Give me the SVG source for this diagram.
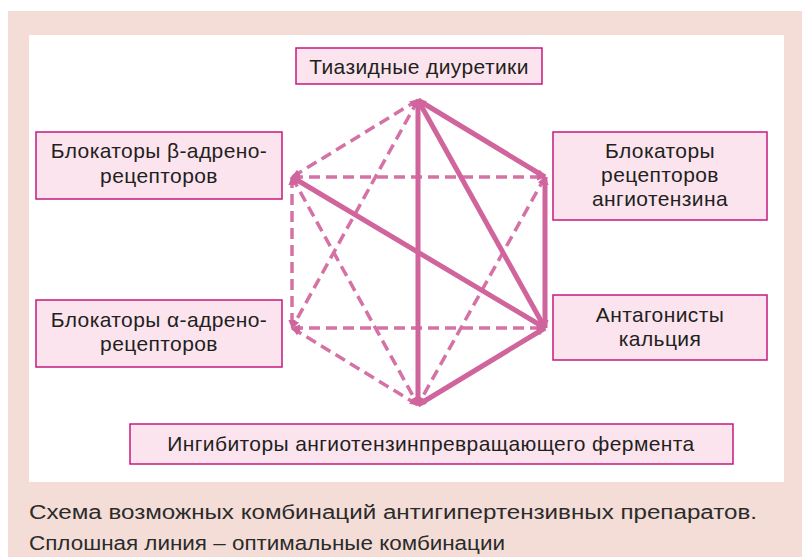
<svg xmlns="http://www.w3.org/2000/svg" width="802" height="557" viewBox="0 0 802 557">
<style>
.box{fill:#fce4ef;stroke:#c41a7e;stroke-width:1.5}
.lbl{font-family:"Liberation Sans","Arial",sans-serif;font-size:21px;letter-spacing:0.4px;fill:#231f20;text-anchor:middle}
.cap{font-family:"Liberation Sans","Arial",sans-serif;font-size:20px;fill:#2b2b2b}
.s{stroke:#d0649c;stroke-width:5;fill:none;marker-start:url(#ah);marker-end:url(#ah)}
.d{stroke:#d572a5;stroke-width:3.5;fill:none;stroke-dasharray:11 6;marker-start:url(#ah);marker-end:url(#ah)}
</style>
<defs>
<marker id="ah" viewBox="0 0 10 10" refX="9" refY="5" markerWidth="9" markerHeight="9" markerUnits="userSpaceOnUse" orient="auto-start-reverse">
<path d="M0,1 L10,5 L0,9 z" fill="#d0649c"/>
</marker>
</defs>
<rect x="8" y="11" width="794" height="546" fill="#f4ddd6"/>
<rect x="29" y="35" width="755" height="447" fill="#ffffff"/>
<g id="connectors">
<line class="d" x1="418" y1="100" x2="292" y2="177"/>
<line class="d" x1="418" y1="100" x2="292" y2="328"/>
<line class="d" x1="292" y1="177" x2="545" y2="177"/>
<line class="d" x1="292" y1="177" x2="292" y2="328"/>
<line class="d" x1="292" y1="177" x2="418" y2="405"/>
<line class="d" x1="545" y1="177" x2="418" y2="405"/>
<line class="d" x1="292" y1="328" x2="545" y2="328"/>
<line class="d" x1="292" y1="328" x2="418" y2="405"/>
<line class="s" x1="418" y1="100" x2="545" y2="177"/>
<line class="s" x1="418" y1="100" x2="545" y2="328"/>
<line class="s" x1="418" y1="100" x2="418" y2="405"/>
<line class="s" x1="545" y1="177" x2="545" y2="328"/>
<line class="s" x1="292" y1="177" x2="545" y2="328"/>
<line class="s" x1="545" y1="328" x2="418" y2="405"/>
</g>
<g id="node-thiazide">
<rect class="box" x="296" y="48" width="246" height="36"/>
<text class="lbl" x="419" y="74">Тиазидные диуретики</text>
</g>
<g id="node-beta">
<rect class="box" x="36" y="132" width="246" height="67"/>
<text class="lbl" x="159" y="158">Блокаторы β-адрено-</text>
<text class="lbl" x="159" y="183">рецепторов</text>
</g>
<g id="node-arb">
<rect class="box" x="553" y="132" width="214" height="88"/>
<text class="lbl" x="660" y="158">Блокаторы</text>
<text class="lbl" x="660" y="182">рецепторов</text>
<text class="lbl" x="660" y="206">ангиотензина</text>
</g>
<g id="node-alpha">
<rect class="box" x="36" y="300" width="246" height="67"/>
<text class="lbl" x="159" y="327">Блокаторы α-адрено-</text>
<text class="lbl" x="159" y="351">рецепторов</text>
</g>
<g id="node-ca">
<rect class="box" x="553" y="295" width="214" height="65"/>
<text class="lbl" x="660" y="322">Антагонисты</text>
<text class="lbl" x="660" y="346">кальция</text>
</g>
<g id="node-ace">
<rect class="box" x="130" y="424" width="603" height="40"/>
<text class="lbl" x="431" y="451">Ингибиторы ангиотензинпревращающего фермента</text>
</g>
<text class="cap" x="29" y="519" textLength="728" lengthAdjust="spacingAndGlyphs">Схема возможных комбинаций антигипертензивных препаратов.</text>
<text class="cap" x="29" y="550" textLength="476" lengthAdjust="spacingAndGlyphs">Сплошная линия – оптимальные комбинации</text>
</svg>
